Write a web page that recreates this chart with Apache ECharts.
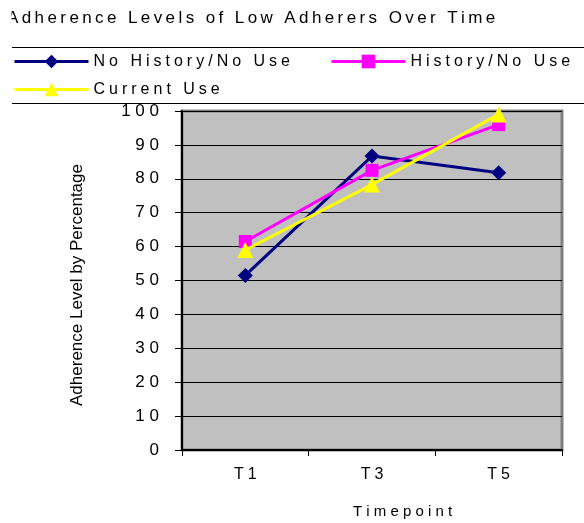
<!DOCTYPE html>
<html><head><meta charset="utf-8">
<script src="https://cdn.jsdelivr.net/npm/echarts@6/dist/echarts.min.js"></script>
<style>html,body{margin:0;padding:0;background:#fff}#c{width:584px;height:523px}</style>
</head><body><div id="c"></div>
<script>
const categories = ['T1', 'T3', 'T5'];
const noHistoryNoUse = [51.5, 86.7, 81.8];
const historyNoUse = [61.5, 82.5, 96];
const currentUse = [59, 78.3, 99];
const seriesNames = ['No History/No Use', 'History/No Use', 'Current Use'];
const titleText = 'Adherence Levels of Low Adherers Over Time';
const yAxisTitle = 'Adherence Level by Percentage';
const xAxisTitle = 'Timepoint';

const sp = (s, g) => s.split('').join(g);
const THIN = '\u2009', FOUR = '\u2005';
const FONT = '"Liberation Sans", Arial, sans-serif';

const chart = echarts.init(document.getElementById('c'));
const legendBase = {
  itemWidth: 74, itemHeight: 17, itemGap: 0, padding: 0,
  lineStyle: {width: 3},
  textStyle: {fontFamily: FONT, fontSize: 16, color: '#000'},
  formatter: n => sp(n, FOUR)
};
chart.setOption({
  animation: false,
  backgroundColor: '#fff',
  legend: [
    Object.assign({}, legendBase, {data: [seriesNames[0]], left: 13, top: 53.5}),
    Object.assign({}, legendBase, {data: [seriesNames[1]], left: 330, top: 53.5}),
    Object.assign({}, legendBase, {data: [seriesNames[2]], left: 13, top: 81.5})
  ],
  grid: {left: 182, right: 22, top: 111, bottom: 73, show: true,
    backgroundColor: '#C0C0C0', borderColor: '#808080', borderWidth: 3},
  xAxis: {type: 'category', data: categories, boundaryGap: true,
    axisLine: {lineStyle: {color: '#000', width: 2}},
    axisTick: {show: true, length: 6, lineStyle: {color: '#000'}},
    axisLabel: {fontFamily: FONT, fontSize: 16, color: '#000', margin: 17, formatter: v => sp(v, FOUR)},
    splitLine: {show: false}},
  yAxis: {type: 'value', min: 0, max: 100, interval: 10,
    axisLine: {show: true, lineStyle: {color: '#000', width: 2}},
    axisTick: {show: true, length: 7, lineStyle: {color: '#000'}},
    axisLabel: {fontFamily: FONT, fontSize: 17, color: '#000', margin: 23, formatter: v => sp(String(v), ' ')},
    splitLine: {show: true, lineStyle: {color: '#000', width: 1}}},
  graphic: [
    {type: 'text', x: 7, y: 18, style: {text: sp(titleText, THIN), font: '17px ' + FONT, fill: '#000', align: 'left', verticalAlign: 'middle'}},
    {type: 'rect', shape: {x: 0, y: 4, width: 11.5, height: 28}, style: {fill: '#fff'}, z: 100},
    {type: 'line', shape: {x1: 12, y1: 47.5, x2: 584, y2: 47.5}, style: {stroke: '#000', lineWidth: 1}},
    {type: 'line', shape: {x1: 12, y1: 103.5, x2: 584, y2: 103.5}, style: {stroke: '#000', lineWidth: 1}},
    {type: 'text', x: 77, y: 285, rotation: Math.PI/2, style: {text: yAxisTitle, font: '17px ' + FONT, fill: '#000', align: 'center', verticalAlign: 'middle'}},
    {type: 'text', x: 402.5, y: 512, style: {text: sp(xAxisTitle, ' '), font: '15px ' + FONT, fill: '#000', align: 'center', verticalAlign: 'middle'}}
  ],
  series: [
    {name: seriesNames[0], type: 'line', data: noHistoryNoUse, symbol: 'diamond', symbolSize: 15,
      lineStyle: {color: '#000080', width: 3}, itemStyle: {color: '#000080'}, z: 3},
    {name: seriesNames[1], type: 'line', data: historyNoUse, symbol: 'rect', symbolSize: 13,
      lineStyle: {color: '#FF00FF', width: 3}, itemStyle: {color: '#FF00FF'}, z: 4},
    {name: seriesNames[2], type: 'line', data: currentUse, symbol: 'triangle', symbolSize: 16,
      lineStyle: {color: '#FFFF00', width: 3}, itemStyle: {color: '#FFFF00'}, z: 5}
  ]
});
</script></body></html>
